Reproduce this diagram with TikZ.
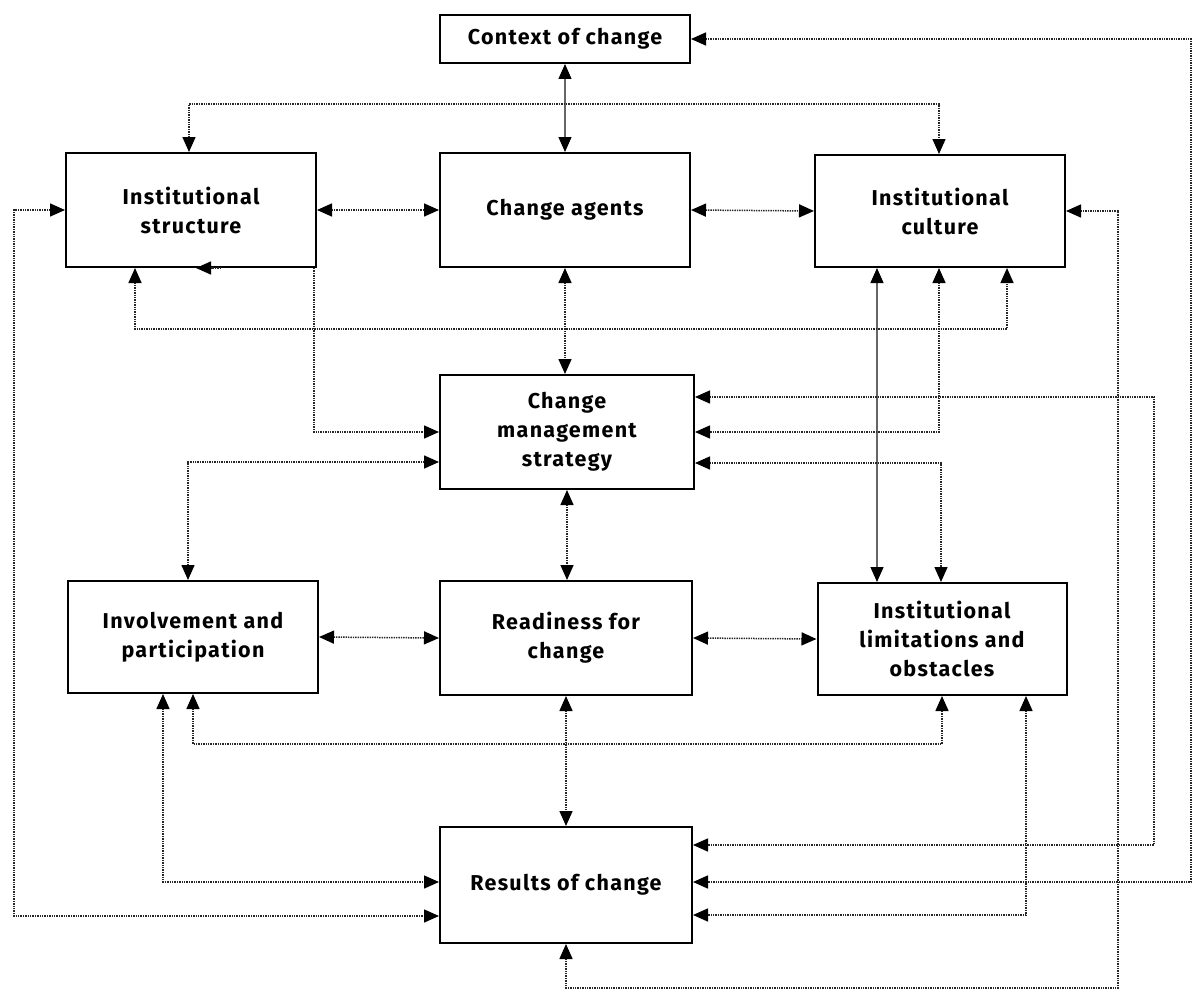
\documentclass[tikz,border=0pt]{standalone}
\usepackage{fontspec}
\setmainfont{Fira Sans}[LetterSpace=6]
\usetikzlibrary{arrows.meta}
\begin{document}
\begin{tikzpicture}[x=1pt, y=-1pt,
  box/.style={draw, line width=2pt, fill=white, align=center, inner sep=0pt,
    minimum width=250pt, minimum height=114pt, font=\fontsize{21.5}{29}\selectfont\bfseries},
  link/.style={line width=1.5pt, black!85, dash pattern=on 1.4pt off 1pt},
  plain link/.style={line width=1.2pt, black!60},
  >={Triangle[length=15pt, width=13pt, color=black]}]
  \useasboundingbox[fill=white] (0,0) rectangle (1192,990);
  \node[box, minimum height=48pt] (ctx) at (565,39) {Context of change};
  \node[box] (struct) at (191,210) {Institutional\\structure};
  \node[box] (agents) at (565,210) {Change agents};
  \node[box, minimum height=112pt] (culture) at (940,211) {Institutional\\culture};
  \node[box, minimum width=254pt] (cms) at (567,432) {Change\\management\\strategy};
  \node[box, minimum height=112pt] (involve) at (193,637) {Involvement and\\participation};
  \node[box, minimum width=252pt] (ready) at (566,638) {Readiness for\\change};
  \node[box, minimum width=249pt, minimum height=112pt] (limits) at (942,639) {Institutional\\limitations and\\obstacles};
  \node[box, minimum width=252pt, minimum height=116pt] (results) at (566,885) {Results of change};
  \draw[plain link, <->] (ctx.south) -- (agents.north);
  \draw[plain link, <->] ([xshift=-63pt]culture.south) -- ([xshift=-65pt]limits.north);
  \foreach \a/\b in {struct/agents, agents/culture, involve/ready, ready/limits} {
    \draw[link, <->] (\a.east) -- (\b.west);
  }
  \foreach \a/\b in {agents/cms, cms/ready, ready/results} {
    \draw[link, <->] (\a.south) -- (\a.south |- \b.north);
  }
  \draw[link, <->] ([xshift=-2pt]struct.north) -- ++(0,-48) -| ([xshift=-1pt]culture.north);
  \draw[link, <->] (struct.west) -- ++(-51,0) |- ([yshift=-31pt]results.west);
  \draw[link, <->] ([xshift=-56pt]struct.south) -- ++(0,61) -| ([xshift=67pt]culture.south);
  \draw[link, ->] ([xshift=30pt]struct.south) -- ([xshift=5pt]struct.south);
  \draw[link, ->] ([xshift=-3pt]struct.south east) |- (cms.west);
  \draw[link, <->] (ctx.east) -- ++(500,0) |- ([yshift=3pt]results.east);
  \draw[link, <->] (culture.east) -| ++(52,777) -| (results.south);
  \draw[link, <->] ([xshift=-1pt]culture.south) |- (cms.east);
  \draw[link, <->] ([yshift=35pt]cms.east) -- ++(459,0) |- ([yshift=40pt]results.east);
  \draw[link, <->] ([yshift=-31pt]cms.east) -| ([xshift=-1pt]limits.north);
  \draw[link, <->] ([yshift=-30pt]cms.west) -| ([xshift=-5pt]involve.north);
  \draw[link, <->] (involve.south) -- ++(0,50) -| (limits.south);
  \draw[link, <->] ([xshift=-30pt]involve.south) |- ([yshift=3pt]results.west);
  \draw[link, <->] ([xshift=84pt]limits.south) |- ([yshift=-30pt]results.east);
\end{tikzpicture}
\end{document}
